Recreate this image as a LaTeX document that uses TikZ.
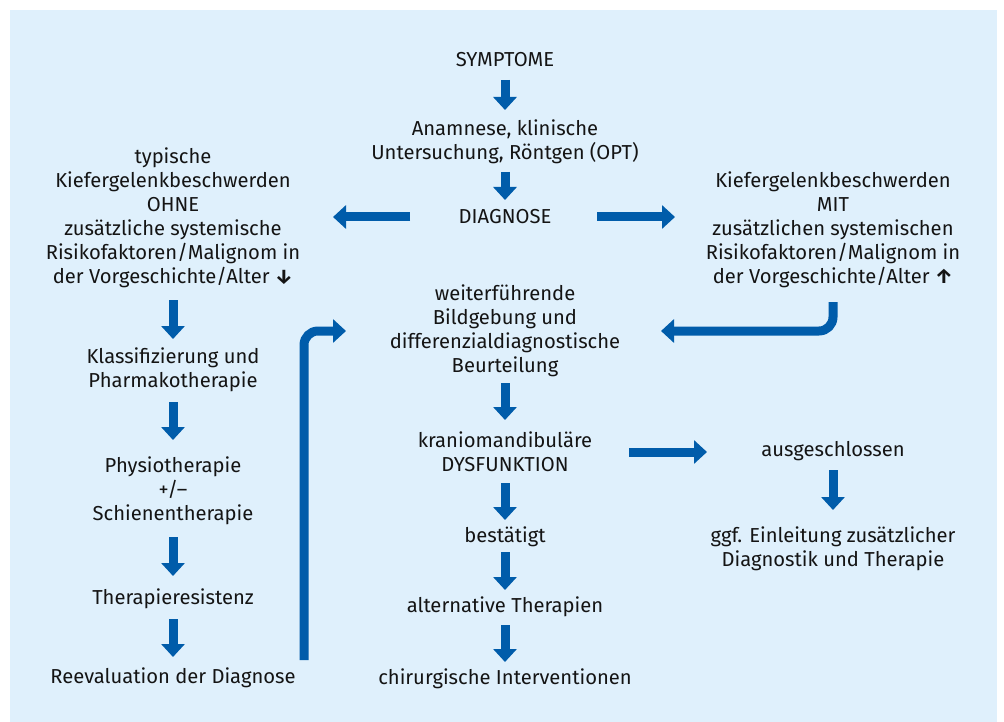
\documentclass[tikz,border=0pt]{standalone}
\usepackage{fontspec}
\setmainfont{Fira Sans}
\usetikzlibrary{arrows.meta}
\definecolor{bgblue}{RGB}{223,240,252}
\definecolor{arrblue}{RGB}{0,92,170}
\definecolor{txt}{RGB}{20,20,20}
\begin{document}
\begin{tikzpicture}[x=1pt,y=-1pt,
  lbl/.style={font=\fontsize{20.2}{24}\selectfont, text=txt, align=center, inner sep=0pt},
  arr/.style={draw=arrblue, line width=9pt, -{Triangle[width=23pt,length=13pt]}}]
\useasboundingbox (0,0) rectangle (1004,722);
\fill[bgblue] (10,10) rectangle (997,722);

\node[lbl] (sym) at (505,60) {SYMPTOME};
\node[lbl] (anam) at (505,142) {Anamnese, klinische\\Untersuchung, Röntgen (OPT)};
\node[lbl] (diag) at (505,217) {DIAGNOSE};
\node[lbl] (lb) at (173,218) {typische\\Kiefergelenkbeschwerden\\OHNE\\zusätzliche systemische\\Risikofaktoren/Malignom in\\der Vorgeschichte/Alter \textbf{↓}};
\node[lbl] (rb) at (833,230) {Kiefergelenkbeschwerden\\MIT\\zusätzlichen systemischen\\Risikofaktoren/Malignom in\\der Vorgeschichte/Alter \textbf{↑}};
\node[lbl] (klass) at (173,370) {Klassifizierung und\\Pharmakotherapie};
\node[lbl] (phys) at (173,491) {Physiotherapie\\+/–\\Schienentherapie};
\node[lbl] (thres) at (173,599) {Therapieresistenz};
\node[lbl] (reev) at (173,678) {Reevaluation der Diagnose};
\node[lbl] (weit) at (505,331) {weiterführende\\Bildgebung und\\differenzialdiagnostische\\Beurteilung};
\node[lbl] (kran) at (505,452) {kraniomandibuläre\\DYSFUNKTION};
\node[lbl] (best) at (505,537) {bestätigt};
\node[lbl] (alt) at (505,607) {alternative Therapien};
\node[lbl] (chir) at (505,679) {chirurgische Interventionen};
\node[lbl] (ausg) at (833,451) {ausgeschlossen};
\node[lbl] (ggf) at (833,549) {ggf. Einleitung zusätzlicher\\Diagnostik und Therapie};
\coordinate (loop) at (304,660);

\draw[arr, shorten <=20pt, shorten >=32pt] (sym.center) -- (anam.center);
\draw[arr, shorten <=30pt, shorten >=17pt] (anam.center) -- (diag.center);
\draw[arr, shorten <=95pt, shorten >=160pt] (diag.center) -- (diag.center -| lb.center);
\draw[arr, shorten <=92pt, shorten >=158pt] (diag.center) -- (diag.center -| rb.center);
\draw[arr, shorten <=82pt, shorten >=31pt] (lb.center) -- (klass.center);
\draw[arr, shorten <=32pt, shorten >=51pt] (klass.center) -- (phys.center);
\draw[arr, shorten <=46pt, shorten >=23pt] (phys.center) -- (thres.center);
\draw[arr, shorten <=20pt, shorten >=21pt] (thres.center) -- (reev.center);
\draw[arr, shorten <=52pt, shorten >=32pt] (weit.center) -- (kran.center);
\draw[arr, shorten <=31pt, shorten >=17pt] (kran.center) -- (best.center);
\draw[arr, shorten <=15pt, shorten >=17pt] (best.center) -- (alt.center);
\draw[arr, shorten <=18pt, shorten >=17pt] (alt.center) -- (chir.center);
\draw[arr, shorten <=124pt, shorten >=126pt] (kran.center) -- (kran.center -| ausg.center);
\draw[arr, shorten <=19pt, shorten >=39pt] (ausg.center) -- (ggf.center);
\draw[arr, rounded corners=14pt, shorten >=159pt] (loop) |- (weit.center);
\draw[arr, rounded corners=14pt, shorten <=72pt, shorten >=156pt] (rb.center) |- (weit.center);
\end{tikzpicture}
\end{document}
